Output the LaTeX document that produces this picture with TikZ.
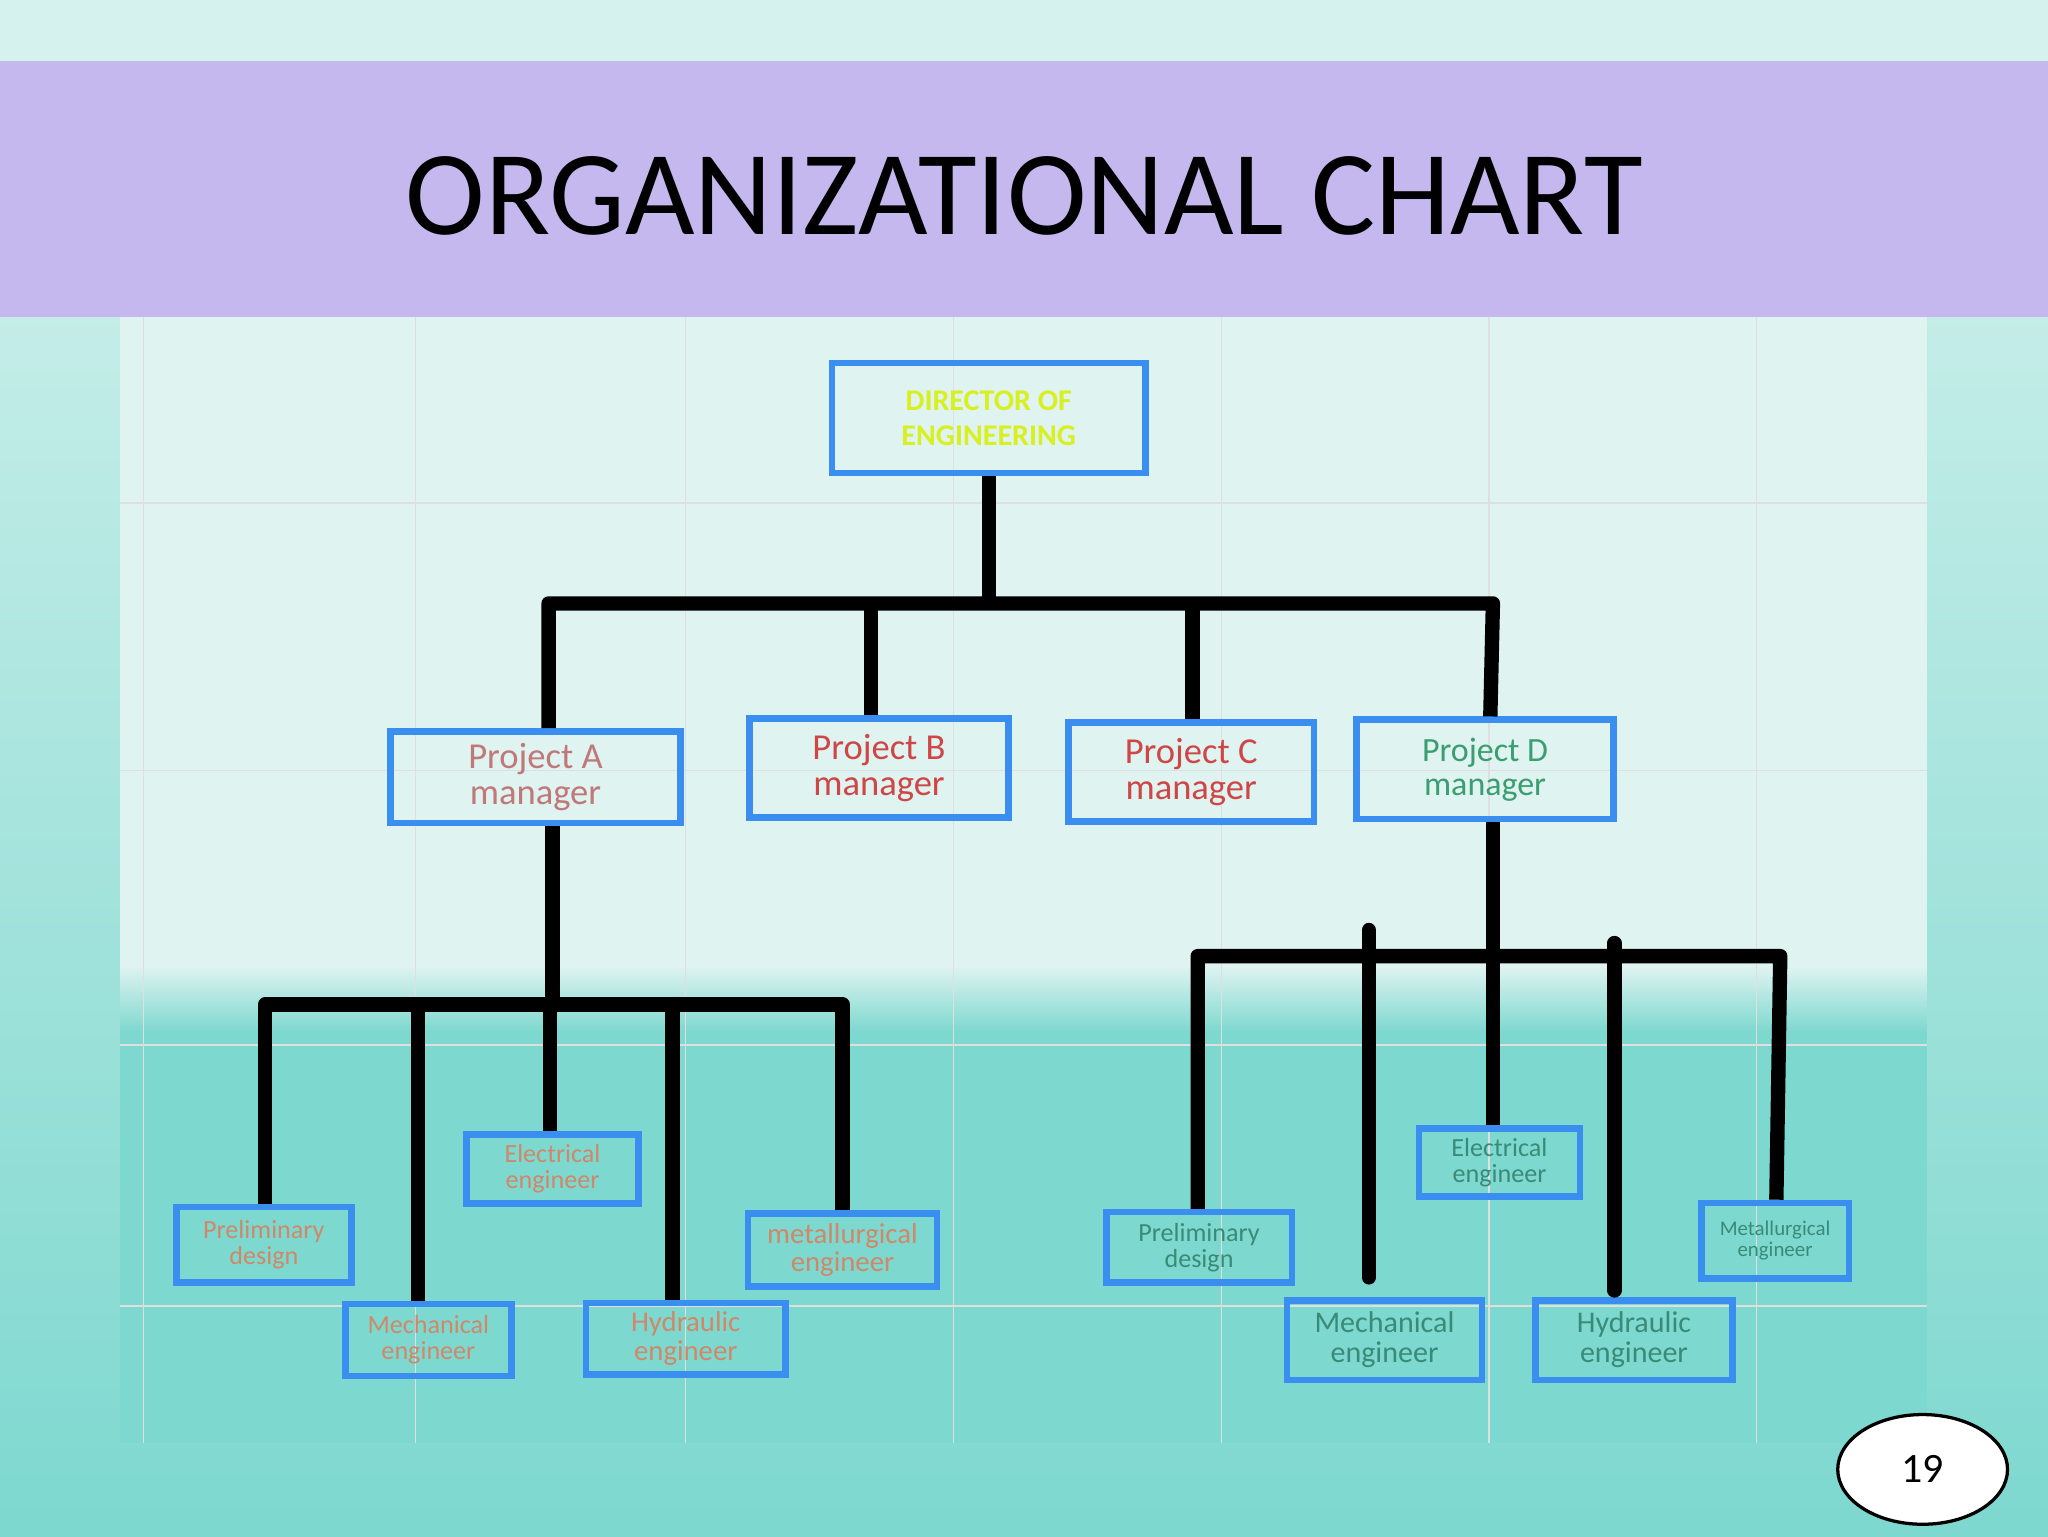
\documentclass[tikz,border=0pt]{standalone}
\usepackage{fontspec}
\setmainfont{Carlito}
\usetikzlibrary{shapes.geometric}
\begin{document}
\begin{tikzpicture}[x=1pt,y=-1pt,
  box/.style={draw=boxblue,line width=5pt,fill=none,align=center,inner sep=0pt,font=\fontsize{#1}{#1}\selectfont},
  box/.default=17,
  ln/.style={line width=11pt,black}]
\definecolor{boxblue}{HTML}{3A8EF0}
\definecolor{mint}{HTML}{D6F2EE}
\definecolor{teal}{HTML}{7DD8CF}
\definecolor{lila}{HTML}{C5B8EE}
\definecolor{panel}{HTML}{DFF3F1}
\definecolor{tA}{HTML}{C07878}
\definecolor{tB}{HTML}{D04545}
\definecolor{tD}{HTML}{3A9E70}
\definecolor{tS}{HTML}{D08868}
\definecolor{tR}{HTML}{3A8A78}
\definecolor{yel}{HTML}{D8F020}
\useasboundingbox (0,0) rectangle (1568,1176);
\shade[top color=mint,bottom color=teal] (0,0) rectangle (1568,1176);
\fill[mint] (0,0) rectangle (1568,47);
\fill[lila] (0,47) rectangle (1568,243);
\node[font=\fontsize{92}{92}\selectfont] (title) at (784,150) {ORGANIZATIONAL CHART};
% panel
\fill[panel] (92,243) rectangle (1475,760);
\shade[top color=panel,bottom color=teal] (92,740) rectangle (1475,790);
\fill[teal] (92,790) rectangle (1475,1105);
\foreach \x in {110,318,525,730,935,1140,1345} \draw[gray!25,line width=1pt] (\x,243) -- (\x,1105);
\foreach \y in {385,590,800,1000} \draw[gray!25,line width=1pt] (92,\y) -- (1475,\y);
% nodes
\node[box=18,minimum width=240,minimum height=84,text=yel,font=\bfseries\fontsize{23}{27}\selectfont] (dir) at (757,320) {DIRECTOR OF\\ENGINEERING};
\node[box=28,minimum width=222,minimum height=70,text=tA] (pa) at (410,595) {Project A\\manager};
\node[box=28,minimum width=198,minimum height=76,text=tB] (pb) at (673,588) {Project B\\manager};
\node[box=28,minimum width=188,minimum height=76,text=tB] (pc) at (912,591) {Project C\\manager};
\node[box=26,minimum width=197,minimum height=76,text=tD] (pd) at (1137,589) {Project D\\manager};
\node[box=20,minimum width=134,minimum height=58,text=tS] (a1) at (202,953) {Preliminary\\design};
\node[box=20,minimum width=127,minimum height=55,text=tS] (a2) at (328,1026) {Mechanical\\engineer};
\node[box=20,minimum width=132,minimum height=53,text=tS] (a3) at (423,895) {Electrical\\engineer};
\node[box=22,minimum width=153,minimum height=55,text=tS] (a4) at (525,1025) {Hydraulic\\engineer};
\node[box=22,minimum width=145,minimum height=56,text=tS] (a5) at (645,957) {metallurgical\\engineer};
\node[box=20,minimum width=142,minimum height=54,text=tR] (d1) at (918,955) {Preliminary\\design};
\node[box=23,minimum width=149,minimum height=61,text=tR] (d2) at (1060,1026) {Mechanical\\engineer};
\node[box=20,minimum width=123,minimum height=52,text=tR] (d3) at (1148,890) {Electrical\\engineer};
\node[box=23,minimum width=151,minimum height=61,text=tR] (d4) at (1251,1026) {Hydraulic\\engineer};
\node[box=16,minimum width=113,minimum height=58,text=tR] (d5) at (1359,950) {Metallurgical\\engineer};
% connectors
\coordinate (b1) at (757,462);
\draw[ln] (dir.south) -- (b1);
\draw[ln,line join=round] (pa.north -| 420,0) -- (420,462) -- (1143,462) -- (pd.north -| 1141,0);
\draw[ln] (667,462) -- (pb.north -| 667,0);
\draw[ln] (913,462) -- (pc.north -| 913,0);
\coordinate (la) at (423,769);
\draw[ln] (pa.south -| la) -- (la);
\draw[ln,line join=round] (a1.north -| 203,0) -- (203,769) -- (645,769) -- (a5.north -| 645,0);
\draw[ln] (320,769) -- (a2.north -| 320,0);
\draw[ln] (421,769) -- (a3.north -| 421,0);
\draw[ln] (515,769) -- (a4.north -| 515,0);
\coordinate (ld) at (1143,732);
\draw[ln] (pd.south -| ld) -- (ld);
\draw[ln,line join=round] (d1.north -| 917,0) -- (917,732) -- (1363,732) -- (d5.north -| 1360,0);
\draw[ln,line cap=round] (1048,712) -- (1048,978);
\draw[ln] (1143,732) -- (d3.north -| 1143,0);
\draw[ln,line cap=round] (1236,722) -- (1236,988);
% page number
\node[draw,line width=2.5pt,ellipse,fill=white,minimum width=130,minimum height=84,font=\fontsize{32}{32}\selectfont] (pg) at (1472,1125) {19};
\end{tikzpicture}
\end{document}
